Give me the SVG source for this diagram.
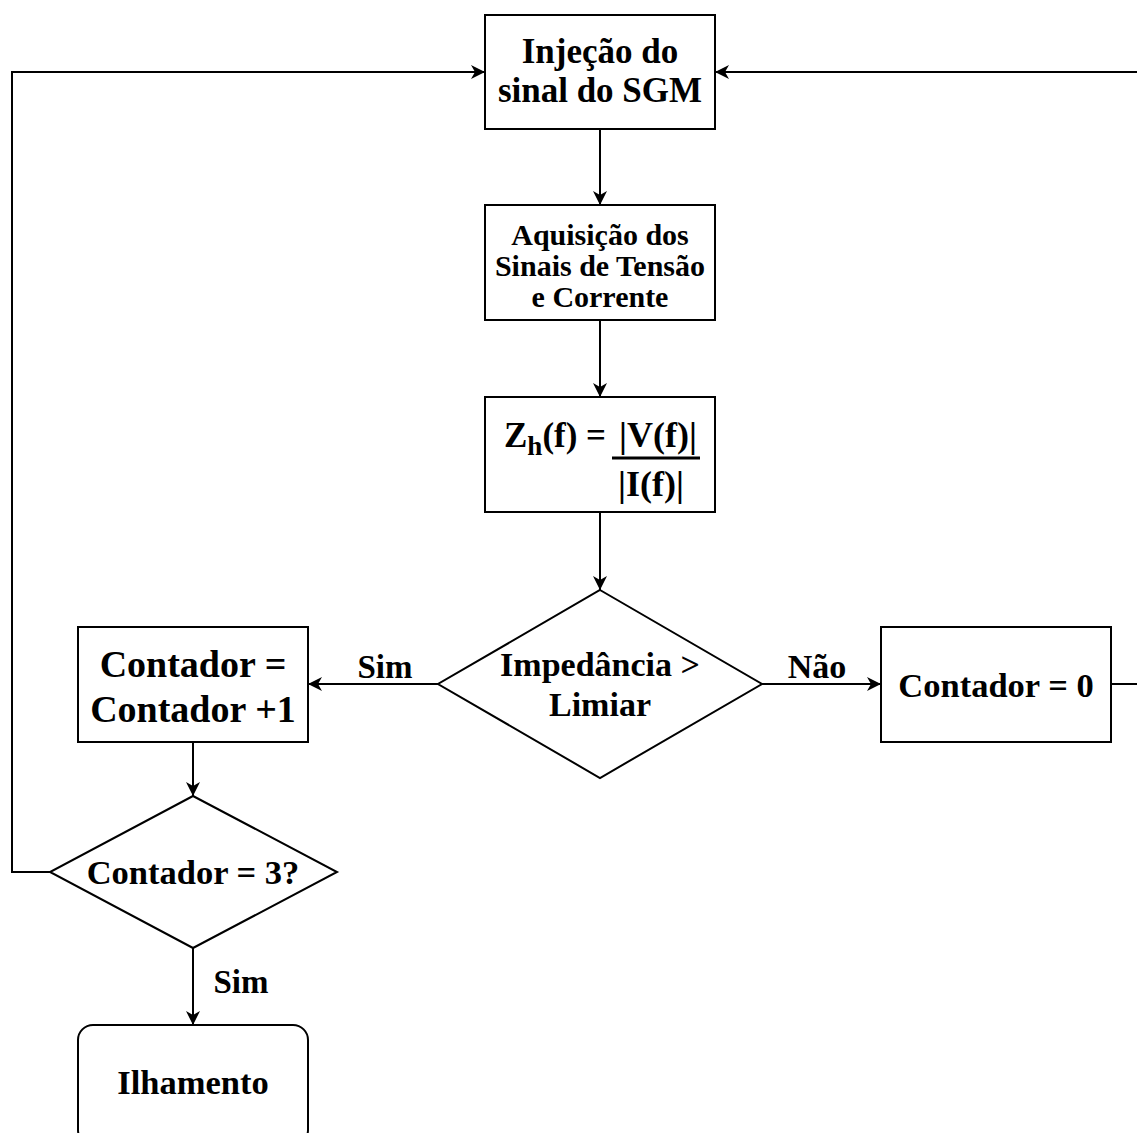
<svg xmlns="http://www.w3.org/2000/svg" width="1137" height="1133" viewBox="0 0 1137 1133">
<style>
.box{fill:#fff;stroke:#000;stroke-width:2}
.t{font-family:"Liberation Serif","Times New Roman",serif;font-weight:bold;fill:#000;text-anchor:middle}
.c{fill:none;stroke:#000;stroke-width:2}
</style>
<defs>
<marker id="a" markerUnits="userSpaceOnUse" markerWidth="16" markerHeight="14" refX="14" refY="7" orient="auto">
<path d="M0,0 L14,7 L0,14 L4,7 z" fill="#000"/>
</marker>
</defs>
<rect width="1137" height="1133" fill="#fff"/>
<g id="connectors">
<path class="c" d="M600,129 V205" marker-end="url(#a)"/>
<path class="c" d="M600,320 V397" marker-end="url(#a)"/>
<path class="c" d="M600,512 V590" marker-end="url(#a)"/>
<path class="c" d="M438,684 H308" marker-end="url(#a)"/>
<path class="c" d="M762,684 H881" marker-end="url(#a)"/>
<path class="c" d="M1111,684 H1150 V72 H715" marker-end="url(#a)"/>
<path class="c" d="M193,742 V796" marker-end="url(#a)"/>
<path class="c" d="M50,872 H12 V72 H485" marker-end="url(#a)"/>
<path class="c" d="M193,948 V1025" marker-end="url(#a)"/>
<text class="t" x="385" y="678" font-size="33">Sim</text>
<text class="t" x="817" y="678" font-size="34">Não</text>
<text class="t" x="241" y="993" font-size="33">Sim</text>
</g>
<g id="n1">
<rect class="box" x="485" y="15" width="230" height="114"/>
<text class="t" x="600" y="63" font-size="35">Injeção do</text>
<text class="t" x="600" y="102" font-size="35">sinal do SGM</text>
</g>
<g id="n2">
<rect class="box" x="485" y="205" width="230" height="115"/>
<text class="t" x="600" y="245" font-size="30">Aquisição dos</text>
<text class="t" x="600" y="276" font-size="30">Sinais de Tensão</text>
<text class="t" x="600" y="307" font-size="30">e Corrente</text>
</g>
<g id="n3">
<rect class="box" x="485" y="397" width="230" height="115"/>
<text class="t" x="504" y="447" font-size="35" style="text-anchor:start">Z<tspan font-size="27" dy="8">h</tspan><tspan dy="-8">(f) =</tspan></text>
<text class="t" x="658" y="447" font-size="36">|V(f)|</text>
<line x1="612" y1="458" x2="700" y2="458" stroke="#000" stroke-width="3"/>
<text class="t" x="651" y="496" font-size="36">|I(f)|</text>
</g>
<g id="d1">
<polygon class="box" points="600,590 762,684 600,778 438,684"/>
<text class="t" x="600" y="676" font-size="34">Impedância &gt;</text>
<text class="t" x="600" y="716" font-size="34">Limiar</text>
</g>
<g id="n4">
<rect class="box" x="78" y="627" width="230" height="115"/>
<text class="t" x="193" y="677" font-size="38">Contador =</text>
<text class="t" x="193" y="722" font-size="38">Contador +1</text>
</g>
<g id="n5">
<rect class="box" x="881" y="627" width="230" height="115"/>
<text class="t" x="996" y="697" font-size="34.5">Contador = 0</text>
</g>
<g id="d2">
<polygon class="box" points="193,796 337,872 193,948 50,872"/>
<text class="t" x="193" y="884" font-size="34.5">Contador = 3?</text>
</g>
<g id="n6">
<rect class="box" x="78" y="1025" width="230" height="120" rx="15"/>
<text class="t" x="193" y="1094" font-size="34.5">Ilhamento</text>
</g>
</svg>
